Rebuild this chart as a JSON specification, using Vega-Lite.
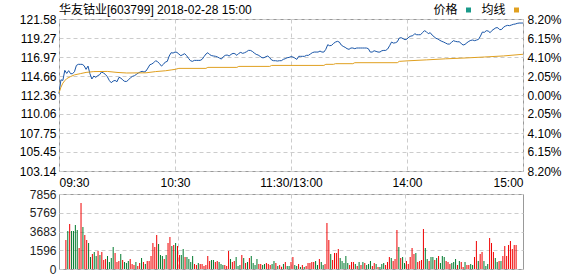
{
 "$schema": "https://vega.github.io/schema/vega-lite/v6.json",
 "padding": {"left": 18, "top": 3, "right": 5, "bottom": 4},
 "background": "white",
 "bounds": "flush",
 "spacing": 23,
 "resolve": {"scale": {"color": "independent"}, "legend": {"color": "independent"}},
 "config": {
  "font": "Liberation Sans",
  "view": {"stroke": "#999999", "strokeWidth": 1},
  "axis": {"labelFont": "Liberation Sans, Noto Sans CJK SC", "labelFontSize": 12, "ticks": false, "domain": false, "gridColor": "#cccccc", "gridDash": [4, 3], "labelOverlap": false, "title": null, "labelColor": "#000000"}
 },
 "datasets": {
  "line": [
   {"m":0,"s":"价格","p":112.52},{"m":1,"s":"价格","p":114.2},{"m":2,"s":"价格","p":114.13},{"m":3,"s":"价格","p":115.35},{"m":4,"s":"价格","p":114.98},{"m":5,"s":"价格","p":115.31},{"m":6,"s":"价格","p":114.94},{"m":7,"s":"价格","p":114.94},{"m":8,"s":"价格","p":115.19},{"m":9,"s":"价格","p":115.95},
   {"m":10,"s":"价格","p":116.08},{"m":11,"s":"价格","p":116.08},{"m":12,"s":"价格","p":116.08},{"m":13,"s":"价格","p":115.91},{"m":14,"s":"价格","p":115.47},{"m":15,"s":"价格","p":115.87},{"m":16,"s":"价格","p":114.94},{"m":17,"s":"价格","p":114.3},{"m":18,"s":"价格","p":114.66},{"m":19,"s":"价格","p":114.5},
   {"m":20,"s":"价格","p":114.7},{"m":21,"s":"价格","p":114.82},{"m":22,"s":"价格","p":115.15},{"m":23,"s":"价格","p":115.03},{"m":24,"s":"价格","p":114.86},{"m":25,"s":"价格","p":114.58},{"m":26,"s":"价格","p":114.13},{"m":27,"s":"价格","p":113.85},{"m":28,"s":"价格","p":114.05},{"m":29,"s":"价格","p":114.13},
   {"m":30,"s":"价格","p":113.97},{"m":31,"s":"价格","p":114.5},{"m":32,"s":"价格","p":114.42},{"m":33,"s":"价格","p":114.17},{"m":34,"s":"价格","p":114.01},{"m":35,"s":"价格","p":114.01},{"m":36,"s":"价格","p":114.21},{"m":37,"s":"价格","p":114.46},{"m":38,"s":"价格","p":114.62},{"m":39,"s":"价格","p":114.7},
   {"m":40,"s":"价格","p":114.86},{"m":41,"s":"价格","p":115.03},{"m":42,"s":"价格","p":115.15},{"m":43,"s":"价格","p":115.23},{"m":44,"s":"价格","p":115.15},{"m":45,"s":"价格","p":115.27},{"m":46,"s":"价格","p":115.63},{"m":47,"s":"价格","p":116.03},{"m":48,"s":"价格","p":116.12},{"m":49,"s":"价格","p":116.28},
   {"m":50,"s":"价格","p":116.52},{"m":51,"s":"价格","p":116.4},{"m":52,"s":"价格","p":116.16},{"m":53,"s":"价格","p":115.87},{"m":54,"s":"价格","p":116.08},{"m":55,"s":"价格","p":116.36},{"m":56,"s":"价格","p":116.44},{"m":57,"s":"价格","p":117.09},{"m":58,"s":"价格","p":117.49},{"m":59,"s":"价格","p":117.45},
   {"m":60,"s":"价格","p":117.57},{"m":61,"s":"价格","p":117.53},{"m":62,"s":"价格","p":117.33},{"m":63,"s":"价格","p":117.13},{"m":64,"s":"价格","p":117.25},{"m":65,"s":"价格","p":117.37},{"m":66,"s":"价格","p":117.13},{"m":67,"s":"价格","p":116.8},{"m":68,"s":"价格","p":116.52},{"m":69,"s":"价格","p":116.44},
   {"m":70,"s":"价格","p":116.56},{"m":71,"s":"价格","p":116.56},{"m":72,"s":"价格","p":116.56},{"m":73,"s":"价格","p":116.56},{"m":74,"s":"价格","p":116.68},{"m":75,"s":"价格","p":117.01},{"m":76,"s":"价格","p":117.33},{"m":77,"s":"价格","p":117.49},{"m":78,"s":"价格","p":117.25},{"m":79,"s":"价格","p":117.13},
   {"m":80,"s":"价格","p":117.09},{"m":81,"s":"价格","p":117.05},{"m":82,"s":"价格","p":116.97},{"m":83,"s":"价格","p":116.84},{"m":84,"s":"价格","p":116.72},{"m":85,"s":"价格","p":117.01},{"m":86,"s":"价格","p":117.17},{"m":87,"s":"价格","p":117.21},{"m":88,"s":"价格","p":117.09},{"m":89,"s":"价格","p":117.29},
   {"m":90,"s":"价格","p":117.41},{"m":91,"s":"价格","p":117.37},{"m":92,"s":"价格","p":117.17},{"m":93,"s":"价格","p":117.41},{"m":94,"s":"价格","p":117.53},{"m":95,"s":"价格","p":117.41},{"m":96,"s":"价格","p":117.49},{"m":97,"s":"价格","p":117.61},{"m":98,"s":"价格","p":117.77},{"m":99,"s":"价格","p":117.77},
   {"m":100,"s":"价格","p":117.65},{"m":101,"s":"价格","p":117.45},{"m":102,"s":"价格","p":117.29},{"m":103,"s":"价格","p":117.21},{"m":104,"s":"价格","p":117.05},{"m":105,"s":"价格","p":116.88},{"m":106,"s":"价格","p":116.88},{"m":107,"s":"价格","p":117.01},{"m":108,"s":"价格","p":117.09},{"m":109,"s":"价格","p":116.88},
   {"m":110,"s":"价格","p":116.6},{"m":111,"s":"价格","p":116.52},{"m":112,"s":"价格","p":116.52},{"m":113,"s":"价格","p":116.48},{"m":114,"s":"价格","p":116.52},{"m":115,"s":"价格","p":116.52},{"m":116,"s":"价格","p":116.68},{"m":117,"s":"价格","p":116.76},{"m":118,"s":"价格","p":116.88},{"m":119,"s":"价格","p":116.92},
   {"m":120,"s":"价格","p":117.01},{"m":121,"s":"价格","p":116.97},{"m":122,"s":"价格","p":116.84},{"m":123,"s":"价格","p":116.68},{"m":124,"s":"价格","p":117.05},{"m":125,"s":"价格","p":117.05},{"m":126,"s":"价格","p":117.05},{"m":127,"s":"价格","p":117.05},{"m":128,"s":"价格","p":117.17},{"m":129,"s":"价格","p":117.17},
   {"m":130,"s":"价格","p":117.33},{"m":131,"s":"价格","p":117.49},{"m":132,"s":"价格","p":117.57},{"m":133,"s":"价格","p":117.57},{"m":134,"s":"价格","p":117.57},{"m":135,"s":"价格","p":117.69},{"m":136,"s":"价格","p":117.57},{"m":137,"s":"价格","p":117.57},{"m":138,"s":"价格","p":117.9},{"m":139,"s":"价格","p":118.46},
   {"m":140,"s":"价格","p":118.34},{"m":141,"s":"价格","p":118.38},{"m":142,"s":"价格","p":118.62},{"m":143,"s":"价格","p":118.78},{"m":144,"s":"价格","p":118.87},{"m":145,"s":"价格","p":118.78},{"m":146,"s":"价格","p":118.42},{"m":147,"s":"价格","p":118.26},{"m":148,"s":"价格","p":118.14},{"m":149,"s":"价格","p":117.98},
   {"m":150,"s":"价格","p":117.9},{"m":151,"s":"价格","p":118.06},{"m":152,"s":"价格","p":118.06},{"m":153,"s":"价格","p":117.98},{"m":154,"s":"价格","p":118.06},{"m":155,"s":"价格","p":118.06},{"m":156,"s":"价格","p":118.06},{"m":157,"s":"价格","p":118.06},{"m":158,"s":"价格","p":118.06},{"m":159,"s":"价格","p":118.06},
   {"m":160,"s":"价格","p":117.98},{"m":161,"s":"价格","p":117.57},{"m":162,"s":"价格","p":117.57},{"m":163,"s":"价格","p":117.73},{"m":164,"s":"价格","p":117.65},{"m":165,"s":"价格","p":117.57},{"m":166,"s":"价格","p":117.57},{"m":167,"s":"价格","p":117.73},{"m":168,"s":"价格","p":117.77},{"m":169,"s":"价格","p":117.77},
   {"m":170,"s":"价格","p":117.94},{"m":171,"s":"价格","p":118.34},{"m":172,"s":"价格","p":118.78},{"m":173,"s":"价格","p":118.66},{"m":174,"s":"价格","p":118.7},{"m":175,"s":"价格","p":118.82},{"m":176,"s":"价格","p":119.27},{"m":177,"s":"价格","p":119.31},{"m":178,"s":"价格","p":119.19},{"m":179,"s":"价格","p":119.07},
   {"m":180,"s":"价格","p":119.15},{"m":181,"s":"价格","p":119.39},{"m":182,"s":"价格","p":119.51},{"m":183,"s":"价格","p":119.55},{"m":184,"s":"价格","p":119.8},{"m":185,"s":"价格","p":119.67},{"m":186,"s":"价格","p":119.67},{"m":187,"s":"价格","p":119.67},{"m":188,"s":"价格","p":119.92},{"m":189,"s":"价格","p":120.16},
   {"m":190,"s":"价格","p":120.04},{"m":191,"s":"价格","p":119.8},{"m":192,"s":"价格","p":119.92},{"m":193,"s":"价格","p":119.63},{"m":194,"s":"价格","p":119.43},{"m":195,"s":"价格","p":119.23},{"m":196,"s":"价格","p":119.15},{"m":197,"s":"价格","p":118.99},{"m":198,"s":"价格","p":118.87},{"m":199,"s":"价格","p":118.78},
   {"m":200,"s":"价格","p":118.66},{"m":201,"s":"价格","p":118.54},{"m":202,"s":"价格","p":118.54},{"m":203,"s":"价格","p":118.74},{"m":204,"s":"价格","p":118.95},{"m":205,"s":"价格","p":118.87},{"m":206,"s":"价格","p":118.82},{"m":207,"s":"价格","p":118.82},{"m":208,"s":"价格","p":118.62},{"m":209,"s":"价格","p":118.42},
   {"m":210,"s":"价格","p":118.5},{"m":211,"s":"价格","p":118.7},{"m":212,"s":"价格","p":118.87},{"m":213,"s":"价格","p":118.99},{"m":214,"s":"价格","p":119.03},{"m":215,"s":"价格","p":118.95},{"m":216,"s":"价格","p":119.03},{"m":217,"s":"价格","p":119.11},{"m":218,"s":"价格","p":119.51},{"m":219,"s":"价格","p":120.0},
   {"m":220,"s":"价格","p":119.96},{"m":221,"s":"价格","p":120.16},{"m":222,"s":"价格","p":120.12},{"m":223,"s":"价格","p":119.92},{"m":224,"s":"价格","p":120.2},{"m":225,"s":"价格","p":120.36},{"m":226,"s":"价格","p":120.52},{"m":227,"s":"价格","p":120.52},{"m":228,"s":"价格","p":120.28},{"m":229,"s":"价格","p":120.32},
   {"m":230,"s":"价格","p":120.6},{"m":231,"s":"价格","p":120.73},{"m":232,"s":"价格","p":120.81},{"m":233,"s":"价格","p":120.77},{"m":234,"s":"价格","p":120.85},{"m":235,"s":"价格","p":120.93},{"m":236,"s":"价格","p":120.97},{"m":237,"s":"价格","p":121.05},{"m":238,"s":"价格","p":121.09},{"m":239,"s":"价格","p":121.09},{"m":240,"s":"价格","p":121.09},
   {"m":0,"s":"均线","p":112.6},{"m":1,"s":"均线","p":113.3},{"m":2,"s":"均线","p":113.8},{"m":3,"s":"均线","p":114.1},{"m":4,"s":"均线","p":114.35},{"m":6,"s":"均线","p":114.6},{"m":8,"s":"均线","p":114.8},{"m":11,"s":"均线","p":114.95},{"m":14,"s":"均线","p":115.1},{"m":18,"s":"均线","p":115.2},
   {"m":25,"s":"均线","p":115.22},{"m":30,"s":"均线","p":115.1},{"m":35,"s":"均线","p":115.03},{"m":45,"s":"均线","p":115.05},{"m":50,"s":"均线","p":115.2},{"m":55,"s":"均线","p":115.3},{"m":58,"s":"均线","p":115.4},{"m":60,"s":"均线","p":115.47},{"m":62,"s":"均线","p":115.59},{"m":76,"s":"均线","p":115.59},
   {"m":77,"s":"均线","p":115.71},{"m":92,"s":"均线","p":115.71},{"m":93,"s":"均线","p":115.83},{"m":109,"s":"均线","p":115.83},{"m":110,"s":"均线","p":115.95},{"m":137,"s":"均线","p":115.95},{"m":138,"s":"均线","p":116.08},{"m":142,"s":"均线","p":116.08},{"m":143,"s":"均线","p":116.16},{"m":152,"s":"均线","p":116.16},
   {"m":153,"s":"均线","p":116.28},{"m":175,"s":"均线","p":116.28},{"m":176,"s":"均线","p":116.44},{"m":180,"s":"均线","p":116.5},{"m":190,"s":"均线","p":116.62},{"m":200,"s":"均线","p":116.75},{"m":210,"s":"均线","p":116.85},{"m":220,"s":"均线","p":116.97},{"m":230,"s":"均线","p":117.1},{"m":240,"s":"均线","p":117.3}
  ],
  "vol": [
   {"m":1,"v":3036,"d":"u"},{"m":2,"v":3979,"d":"d"},{"m":3,"v":4712,"d":"u"},{"m":4,"v":3979,"d":"d"},{"m":5,"v":3979,"d":"d"},{"m":6,"v":4607,"d":"d"},{"m":7,"v":4083,"d":"d"},{"m":8,"v":2199,"d":"u"},{"m":9,"v":6910,"d":"u"},{"m":10,"v":4397,"d":"d"},
   {"m":11,"v":3560,"d":"u"},{"m":12,"v":3036,"d":"u"},{"m":13,"v":2722,"d":"d"},{"m":14,"v":1256,"d":"d"},{"m":15,"v":1571,"d":"u"},{"m":16,"v":1780,"d":"d"},{"m":17,"v":1361,"d":"d"},{"m":18,"v":1885,"d":"u"},{"m":19,"v":1466,"d":"d"},{"m":20,"v":1780,"d":"u"},
   {"m":21,"v":942,"d":"u"},{"m":22,"v":1047,"d":"u"},{"m":23,"v":1361,"d":"d"},{"m":24,"v":733,"d":"d"},{"m":25,"v":1152,"d":"d"},{"m":26,"v":2303,"d":"d"},{"m":27,"v":1675,"d":"u"},{"m":28,"v":733,"d":"u"},{"m":29,"v":838,"d":"u"},{"m":30,"v":1571,"d":"d"},
   {"m":31,"v":942,"d":"u"},{"m":32,"v":733,"d":"d"},{"m":33,"v":628,"d":"d"},{"m":34,"v":838,"d":"d"},{"m":35,"v":1047,"d":"u"},{"m":36,"v":524,"d":"u"},{"m":37,"v":419,"d":"u"},{"m":38,"v":733,"d":"d"},{"m":39,"v":314,"d":"u"},{"m":40,"v":628,"d":"u"},
   {"m":41,"v":1152,"d":"d"},{"m":42,"v":733,"d":"u"},{"m":43,"v":524,"d":"d"},{"m":44,"v":838,"d":"u"},{"m":45,"v":838,"d":"u"},{"m":46,"v":1361,"d":"u"},{"m":47,"v":2722,"d":"u"},{"m":48,"v":2303,"d":"u"},{"m":49,"v":3560,"d":"u"},{"m":50,"v":2618,"d":"d"},
   {"m":51,"v":1466,"d":"d"},{"m":52,"v":1361,"d":"d"},{"m":53,"v":1047,"d":"u"},{"m":54,"v":1466,"d":"d"},{"m":55,"v":2722,"d":"u"},{"m":56,"v":3350,"d":"u"},{"m":57,"v":2408,"d":"d"},{"m":58,"v":2513,"d":"u"},{"m":59,"v":2722,"d":"d"},{"m":60,"v":2408,"d":"u"},
   {"m":61,"v":1466,"d":"u"},{"m":62,"v":1466,"d":"d"},{"m":63,"v":2094,"d":"d"},{"m":64,"v":1256,"d":"u"},{"m":65,"v":1256,"d":"d"},{"m":66,"v":1047,"d":"d"},{"m":67,"v":733,"d":"d"},{"m":68,"v":1361,"d":"d"},{"m":69,"v":524,"d":"u"},{"m":70,"v":419,"d":"u"},
   {"m":71,"v":628,"d":"d"},{"m":72,"v":524,"d":"u"},{"m":73,"v":524,"d":"u"},{"m":74,"v":314,"d":"u"},{"m":75,"v":419,"d":"u"},{"m":76,"v":1361,"d":"u"},{"m":77,"v":838,"d":"u"},{"m":78,"v":942,"d":"d"},{"m":79,"v":942,"d":"d"},{"m":80,"v":733,"d":"u"},
   {"m":81,"v":838,"d":"u"},{"m":82,"v":733,"d":"d"},{"m":83,"v":524,"d":"d"},{"m":84,"v":419,"d":"d"},{"m":85,"v":419,"d":"u"},{"m":86,"v":314,"d":"u"},{"m":87,"v":1885,"d":"u"},{"m":88,"v":1047,"d":"d"},{"m":89,"v":733,"d":"u"},{"m":90,"v":838,"d":"u"},
   {"m":91,"v":1256,"d":"d"},{"m":92,"v":314,"d":"d"},{"m":93,"v":419,"d":"d"},{"m":94,"v":1466,"d":"u"},{"m":95,"v":1152,"d":"d"},{"m":96,"v":628,"d":"u"},{"m":97,"v":733,"d":"d"},{"m":98,"v":1152,"d":"u"},{"m":99,"v":1361,"d":"d"},{"m":100,"v":628,"d":"d"},
   {"m":101,"v":419,"d":"d"},{"m":102,"v":1047,"d":"d"},{"m":103,"v":524,"d":"u"},{"m":104,"v":524,"d":"u"},{"m":105,"v":419,"d":"d"},{"m":106,"v":524,"d":"d"},{"m":107,"v":628,"d":"u"},{"m":108,"v":524,"d":"u"},{"m":109,"v":419,"d":"u"},{"m":110,"v":524,"d":"d"},
   {"m":111,"v":838,"d":"d"},{"m":112,"v":628,"d":"u"},{"m":113,"v":314,"d":"d"},{"m":114,"v":419,"d":"u"},{"m":115,"v":244,"d":"u"},{"m":116,"v":524,"d":"d"},{"m":117,"v":733,"d":"u"},{"m":118,"v":314,"d":"d"},{"m":119,"v":314,"d":"d"},{"m":120,"v":733,"d":"u"},
   {"m":121,"v":1256,"d":"u"},{"m":122,"v":419,"d":"d"},{"m":123,"v":314,"d":"d"},{"m":124,"v":524,"d":"u"},{"m":125,"v":209,"d":"d"},{"m":126,"v":419,"d":"u"},{"m":127,"v":209,"d":"d"},{"m":128,"v":314,"d":"u"},{"m":129,"v":628,"d":"u"},{"m":130,"v":628,"d":"u"},
   {"m":131,"v":733,"d":"u"},{"m":132,"v":733,"d":"u"},{"m":133,"v":838,"d":"d"},{"m":134,"v":419,"d":"d"},{"m":135,"v":1047,"d":"u"},{"m":136,"v":733,"d":"d"},{"m":137,"v":419,"d":"d"},{"m":138,"v":524,"d":"u"},{"m":139,"v":4816,"d":"u"},{"m":140,"v":3036,"d":"u"},
   {"m":141,"v":1571,"d":"d"},{"m":142,"v":942,"d":"u"},{"m":143,"v":1675,"d":"u"},{"m":144,"v":1675,"d":"u"},{"m":145,"v":2094,"d":"u"},{"m":146,"v":1152,"d":"d"},{"m":147,"v":838,"d":"d"},{"m":148,"v":628,"d":"d"},{"m":149,"v":1361,"d":"d"},{"m":150,"v":628,"d":"d"},
   {"m":151,"v":419,"d":"u"},{"m":152,"v":733,"d":"u"},{"m":153,"v":733,"d":"u"},{"m":154,"v":524,"d":"d"},{"m":155,"v":314,"d":"u"},{"m":156,"v":733,"d":"d"},{"m":157,"v":419,"d":"u"},{"m":158,"v":733,"d":"d"},{"m":159,"v":628,"d":"u"},{"m":160,"v":419,"d":"d"},
   {"m":161,"v":524,"d":"d"},{"m":162,"v":838,"d":"d"},{"m":163,"v":314,"d":"u"},{"m":164,"v":628,"d":"u"},{"m":165,"v":524,"d":"d"},{"m":166,"v":209,"d":"u"},{"m":167,"v":209,"d":"d"},{"m":168,"v":524,"d":"d"},{"m":169,"v":628,"d":"d"},{"m":170,"v":419,"d":"u"},
   {"m":171,"v":733,"d":"u"},{"m":172,"v":1256,"d":"u"},{"m":173,"v":1152,"d":"d"},{"m":174,"v":838,"d":"u"},{"m":175,"v":1047,"d":"u"},{"m":176,"v":4083,"d":"u"},{"m":177,"v":2303,"d":"d"},{"m":178,"v":1152,"d":"u"},{"m":179,"v":1256,"d":"d"},{"m":180,"v":628,"d":"d"},
   {"m":181,"v":838,"d":"u"},{"m":182,"v":524,"d":"u"},{"m":183,"v":1256,"d":"u"},{"m":184,"v":2199,"d":"u"},{"m":185,"v":1571,"d":"u"},{"m":186,"v":1675,"d":"d"},{"m":187,"v":733,"d":"u"},{"m":188,"v":838,"d":"u"},{"m":189,"v":942,"d":"u"},{"m":190,"v":4188,"d":"u"},
   {"m":191,"v":2199,"d":"d"},{"m":192,"v":1047,"d":"d"},{"m":193,"v":838,"d":"u"},{"m":194,"v":1256,"d":"d"},{"m":195,"v":1256,"d":"d"},{"m":196,"v":942,"d":"u"},{"m":197,"v":1152,"d":"d"},{"m":198,"v":1361,"d":"u"},{"m":199,"v":628,"d":"d"},{"m":200,"v":1361,"d":"d"},
   {"m":201,"v":1256,"d":"d"},{"m":202,"v":838,"d":"u"},{"m":203,"v":733,"d":"u"},{"m":204,"v":524,"d":"u"},{"m":205,"v":628,"d":"d"},{"m":206,"v":733,"d":"d"},{"m":207,"v":1047,"d":"d"},{"m":208,"v":419,"d":"u"},{"m":209,"v":838,"d":"d"},{"m":210,"v":733,"d":"u"},
   {"m":211,"v":209,"d":"u"},{"m":212,"v":733,"d":"d"},{"m":213,"v":419,"d":"u"},{"m":214,"v":419,"d":"u"},{"m":215,"v":524,"d":"d"},{"m":216,"v":419,"d":"d"},{"m":217,"v":1256,"d":"u"},{"m":218,"v":2932,"d":"u"},{"m":219,"v":838,"d":"d"},{"m":220,"v":1571,"d":"u"},
   {"m":221,"v":1780,"d":"u"},{"m":222,"v":838,"d":"d"},{"m":223,"v":314,"d":"d"},{"m":224,"v":524,"d":"d"},{"m":225,"v":3246,"d":"u"},{"m":226,"v":2722,"d":"u"},{"m":227,"v":1780,"d":"u"},{"m":228,"v":1152,"d":"d"},{"m":229,"v":733,"d":"d"},{"m":230,"v":838,"d":"u"},
   {"m":231,"v":838,"d":"d"},{"m":232,"v":1361,"d":"u"},{"m":233,"v":2408,"d":"u"},{"m":234,"v":1361,"d":"u"},{"m":235,"v":2513,"d":"u"},{"m":236,"v":2932,"d":"u"},{"m":237,"v":2094,"d":"u"},{"m":238,"v":2513,"d":"u"},{"m":239,"v":2513,"d":"u"}
  ]
 },
 "vconcat": [
  {
   "width": 464,
   "height": 152,
   "title": {"text": "华友钴业[603799] 2018-02-28 15:00", "anchor": "start", "frame": "group", "offset": 0, "dy": 13, "fontSize": 12, "fontWeight": "normal", "font": "Liberation Sans, Noto Sans CJK SC", "color": "#000000", "dx": 0},
   "data": {"name": "line"},
   "encoding": {
    "x": {"field": "m", "type": "quantitative", "scale": {"domain": [0, 240], "nice": false, "zero": false},
     "axis": {"values": [0, 60, 120, 180, 240], "labelExpr": "['09:30','10:30','11:30/13:00','14:00','15:00'][round(datum.index*4)]", "labelFlush": true, "labelPadding": 6, "grid": true}},
    "color": {"field": "s", "type": "nominal", "scale": {"domain": ["价格", "均线"], "range": ["#1a56a8", "#e0a020"]},
     "legend": {"orient": "none", "legendX": 367.5, "legendY": -15, "direction": "horizontal", "title": null, "symbolType": "square", "symbolSize": 25, "symbolStrokeWidth": 0, "symbolOffset": 36, "labelOffset": -41, "columnPadding": 3, "labelFont": "Liberation Sans, Noto Sans CJK SC", "labelFontSize": 12, "labelColor": "#000000",
      "encode": {"symbols": {"update": {"fill": {"signal": "datum.value === '价格' ? '#1a9a8a' : '#e0a020'"}, "stroke": {"value": "transparent"}, "opacity": {"value": 1}}}}}}
   },
   "layer": [
    {
     "transform": [{"filter": "datum.s === '价格'"}],
     "mark": {"type": "line", "strokeWidth": 1},
     "encoding": {
      "y": {"field": "p", "type": "quantitative", "scale": {"domain": [103.14, 121.58], "nice": false, "zero": false},
       "axis": {"orient": "left", "values": [103.14, 105.45, 107.75, 110.06, 112.36, 114.66, 116.97, 119.27, 121.58], "format": ".2f", "labelPadding": 3, "labelFlush": false, "grid": true,
        "encode": {"labels": {"update": {"fill": {"signal": "datum.value > 112.37 ? '#e0262d' : (datum.value < 112.35 ? '#1f8a4c' : '#222222')"}}}}}}
     }
    },
    {
     "transform": [{"filter": "datum.s === '均线'"}],
     "mark": {"type": "line", "strokeWidth": 1},
     "encoding": {
      "y": {"field": "p", "type": "quantitative",
       "axis": {"orient": "right", "values": [103.14, 105.45, 107.75, 110.06, 112.36, 114.66, 116.97, 119.27, 121.58], "labelExpr": "['8.20%','6.15%','4.10%','2.05%','0.00%','2.05%','4.10%','6.15%','8.20%'][round(datum.index*8)]", "labelPadding": 4, "labelFlush": false, "grid": false,
        "encode": {"labels": {"update": {"fill": {"signal": "datum.value > 112.37 ? '#e0262d' : (datum.value < 112.35 ? '#1f8a4c' : '#222222')"}}}}}}
     }
    }
   ],
   "resolve": {"axis": {"y": "independent"}}
  },
  {
   "width": 464,
   "height": 75,
   "data": {"name": "vol"},
   "mark": {"type": "bar", "width": 1},
   "encoding": {
    "x": {"field": "m", "type": "quantitative", "scale": {"domain": [0, 240], "nice": false, "zero": false},
     "axis": {"values": [60, 120, 180], "labels": false, "grid": true}},
    "y": {"field": "v", "type": "quantitative", "scale": {"domain": [0, 7856], "nice": false},
     "axis": {"values": [0, 1964, 3928, 5892, 7856], "labelExpr": "['0','1596','3683','5769','7856'][round(datum.index*4)]", "labelPadding": 3, "labelFlush": false, "grid": true, "labelColor": "#222222"}},
    "color": {"field": "d", "type": "nominal", "scale": {"domain": ["u", "d"], "range": ["#f00000", "#007a2e"]}, "legend": null}
   }
  }
 ]
}
